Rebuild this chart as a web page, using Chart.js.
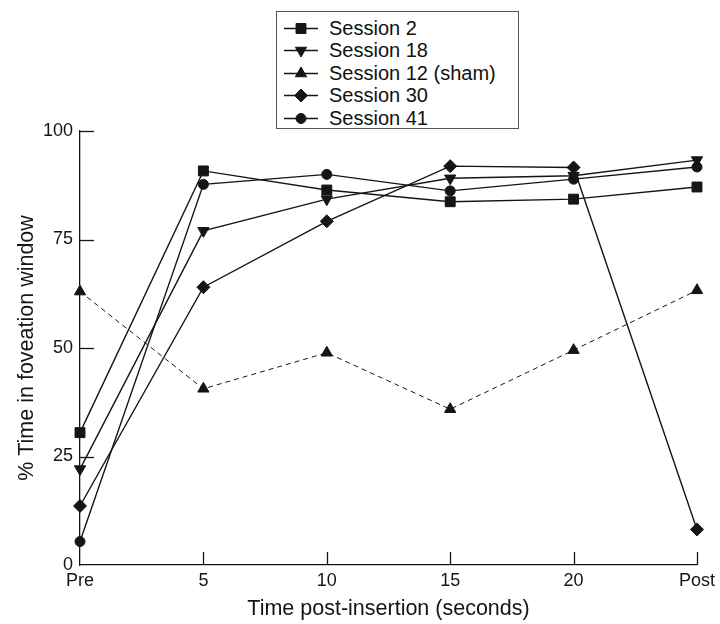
<!DOCTYPE html>
<html><head><meta charset="utf-8">
<script src="https://cdn.jsdelivr.net/npm/chart.js@4.4.1/dist/chart.umd.min.js"></script>
<style>
html,body{margin:0;padding:0;background:#fff;overflow:hidden;}
#wrap{position:relative;width:720px;height:624px;}
#c{position:absolute;left:0;top:0;}
#legend{position:absolute;left:276px;top:11px;width:243px;height:118px;border:1.5px solid #555;box-sizing:border-box;background:#fff;}
.li{position:absolute;left:0;height:22px;line-height:22px;white-space:nowrap;font-family:"Liberation Sans",Arial,Helvetica,sans-serif;font-size:20px;color:#111;}
.li canvas{position:absolute;left:7px;top:1px;}
.li span{position:absolute;left:52px;top:0;}
</style></head>
<body><div id="wrap"><canvas id="c" width="720" height="624"></canvas><div id="legend"></div></div>
<script>
const categories = ['Pre', '5', '10', '15', '20', 'Post'];
const session2  = [30.5, 90.8, 86.4, 83.7, 84.3, 87.1];
const session18 = [22.1, 77.0, 84.3, 89.1, 89.7, 93.3];
const session12 = [63.0, 40.6, 48.9, 35.9, 49.5, 63.3];
const session30 = [13.6, 64.0, 79.2, 91.9, 91.6, 8.2];
const session41 = [5.4, 87.7, 90.0, 86.2, 88.9, 91.7];
const yTickValues = [0, 25, 50, 75, 100];
const seriesNames = ['Session 2', 'Session 18', 'Session 12 (sham)', 'Session 30', 'Session 41'];

const INK = '#151515';
const FONT = '"Liberation Sans", Arial, Helvetica, sans-serif';

const styles = [
  {pointStyle: 'rect', rotation: 0, radius: 7, dash: [], width: 1.4},
  {pointStyle: 'triangle', rotation: 180, radius: 6.5, dash: [], width: 1.4},
  {pointStyle: 'triangle', rotation: 0, radius: 6.5, dash: [5, 4], width: 1},
  {pointStyle: 'rectRot', rotation: 0, radius: 6.5, dash: [], width: 1.4},
  {pointStyle: 'circle', rotation: 0, radius: 5, dash: [], width: 1.4}
];
const seriesData = [session2, session18, session12, session30, session41];

const datasets = seriesData.map((d, i) => ({
  label: seriesNames[i],
  data: d,
  borderColor: INK,
  backgroundColor: INK,
  borderWidth: styles[i].width,
  borderDash: styles[i].dash,
  pointStyle: styles[i].pointStyle,
  pointRotation: styles[i].rotation,
  pointRadius: styles[i].radius,
  pointBorderWidth: 1,
  pointBorderColor: INK,
  pointBackgroundColor: INK,
  tension: 0,
  fill: false,
  clip: false,
  order: i === 2 ? 10 : i
}));

const inwardTicks = {
  id: 'inwardTicks',
  beforeDatasetsDraw(chart) {
    const {ctx, scales: {x, y}} = chart;
    ctx.save();
    ctx.strokeStyle = INK;
    ctx.lineWidth = 1.3;
    y.ticks.forEach(t => {
      if (t.value === 0) return;
      const py = Math.round(y.getPixelForValue(t.value)) + 0.5;
      ctx.beginPath(); ctx.moveTo(x.left, py); ctx.lineTo(x.left + 14, py); ctx.stroke();
    });
    x.ticks.forEach((t, i) => {
      if (i === 0) return;
      const px = Math.round(x.getPixelForTick(i)) + 0.5;
      ctx.beginPath(); ctx.moveTo(px, y.bottom); ctx.lineTo(px, y.bottom - 13); ctx.stroke();
    });
    ctx.restore();
  }
};

new Chart(document.getElementById('c'), {
  type: 'line',
  data: {labels: categories, datasets},
  options: {
    responsive: false,
    animation: false,
    devicePixelRatio: 1,
    layout: {padding: {left: 0, right: 20, top: 131, bottom: 0}},
    plugins: {legend: {display: false}, tooltip: {enabled: false}},
    scales: {
      x: {
        type: 'category',
        offset: false,
        grid: {display: false, drawTicks: false},
        border: {display: true, color: INK, width: 1.3},
        ticks: {color: INK, font: {family: FONT, size: 18}, padding: 5, maxRotation: 0, autoSkip: false},
        title: {display: true, text: 'Time post-insertion (seconds)', color: INK, font: {family: FONT, size: 21.5}, padding: {top: 0, bottom: 2}},
        afterFit(s) { s.height = 59; }
      },
      y: {
        min: 0, max: 100,
        afterBuildTicks(s) { s.ticks = yTickValues.map(v => ({value: v})); },
        grid: {display: false, drawTicks: false},
        border: {display: true, color: INK, width: 1.3},
        ticks: {color: INK, font: {family: FONT, size: 18}, padding: 7},
        title: {display: true, text: '% Time in foveation window', color: INK, font: {family: FONT, size: 21.5}, padding: {top: 14, bottom: 0}},
        afterFit(s) { s.width = 80; }
      }
    }
  },
  plugins: [inwardTicks]
});

// legend (line + marker + text)
function drawMarker(ctx, st, cx, cy) {
  const r = st.radius;
  ctx.beginPath();
  if (st.pointStyle === 'circle') {
    ctx.arc(cx, cy, r, 0, Math.PI * 2);
  } else if (st.pointStyle === 'rect') {
    const s = Math.SQRT1_2 * r;
    ctx.rect(cx - s, cy - s, 2 * s, 2 * s);
  } else if (st.pointStyle === 'rectRot') {
    ctx.moveTo(cx, cy - r); ctx.lineTo(cx + r, cy); ctx.lineTo(cx, cy + r); ctx.lineTo(cx - r, cy); ctx.closePath();
  } else if (st.pointStyle === 'triangle') {
    let rad = st.rotation * Math.PI / 180;
    for (let k = 0; k < 3; k++) {
      const px = cx + Math.sin(rad) * r, py = cy - Math.cos(rad) * r;
      if (k === 0) ctx.moveTo(px, py); else ctx.lineTo(px, py);
      rad += 2 * Math.PI / 3;
    }
    ctx.closePath();
  }
  ctx.fill(); ctx.stroke();
}
const legend = document.getElementById('legend');
const rowCenters = [15.5, 38, 60.5, 83, 105.5];
seriesNames.forEach((name, i) => {
  const item = document.createElement('div');
  item.className = 'li';
  item.style.top = (rowCenters[i] - 11) + 'px';
  const cv = document.createElement('canvas');
  cv.width = 36; cv.height = 20;
  const ctx = cv.getContext('2d');
  ctx.strokeStyle = INK; ctx.fillStyle = INK; ctx.lineWidth = 1.4;
  ctx.beginPath(); ctx.moveTo(0, 10.5); ctx.lineTo(34, 10.5); ctx.stroke();
  ctx.lineWidth = 1;
  drawMarker(ctx, styles[i], 17, 10.5);
  const sp = document.createElement('span');
  sp.textContent = name;
  item.appendChild(cv); item.appendChild(sp);
  legend.appendChild(item);
});
</script>
</body></html>
